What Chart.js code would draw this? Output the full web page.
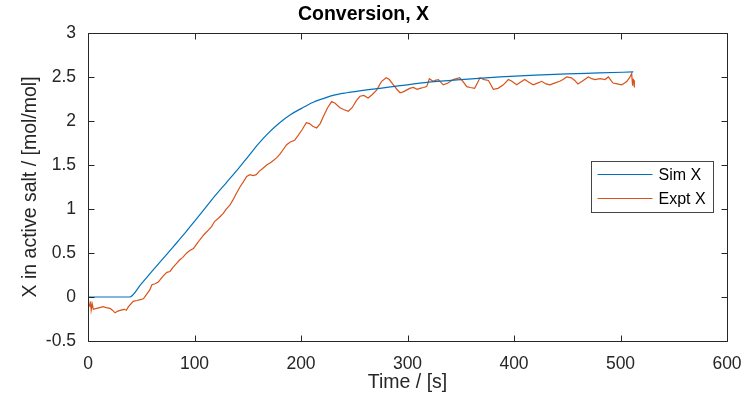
<!DOCTYPE html>
<html lang="en">
<head>
<meta charset="UTF-8">
<title>Conversion, X</title>
<script src="https://cdn.jsdelivr.net/npm/chart.js@4.4.1/dist/chart.umd.min.js"></script>
<style>
  body { margin: 0; background: #fff; }
  #wrap { width: 753px; height: 400px; }
</style>
</head>
<body>
<div id="wrap"><canvas id="conv" width="753" height="400"></canvas></div>
<script>
// axis ticks
const xTickVals = [0, 100, 200, 300, 400, 500, 600];
const yTickVals = [-0.5, 0, 0.5, 1, 1.5, 2, 2.5, 3];

// simulated conversion
const simT = [0, 20, 39, 50, 60, 70, 80, 90, 100, 110, 120, 130, 140, 150, 160, 170, 180, 190, 200, 211, 220, 230, 243, 260, 274, 293, 320, 350, 387, 420, 450, 480, 512];
const simX = [0, 0, 0, 0.15, 0.29, 0.43, 0.57, 0.71, 0.86, 1.01, 1.16, 1.30, 1.44, 1.59, 1.74, 1.87, 1.98, 2.07, 2.14, 2.21, 2.25, 2.29, 2.32, 2.35, 2.37, 2.40, 2.44, 2.47, 2.50, 2.52, 2.535, 2.545, 2.557];

// experimental conversion
const exptT = [0, 1, 2, 2.5, 3, 4, 5, 8, 11, 14, 17, 20.7, 23, 25.4, 28, 31, 34, 36, 38, 42.5, 46, 49, 52, 55, 58, 60, 63, 66, 68, 70.7,
  74, 77, 80, 83, 86, 89, 92.7, 96, 99, 102, 105, 109, 113, 116, 119, 123, 127, 130, 133, 136, 139, 142.7, 146, 149, 152, 155, 158, 161, 164, 167.8,
  172, 177, 180, 183, 186.5, 190, 194, 197, 201, 205, 208, 211, 214.7, 218, 221, 225, 228.8, 232, 236.6, 240, 244.4, 248, 252, 255.4, 259, 263, 267, 271, 275.7, 280,
  283, 286, 290, 293, 296, 299, 302, 305.5, 309, 311.7, 315, 318, 319.5, 320.5, 324, 326, 329, 333.6, 338, 343, 349, 352, 355.6, 359, 363, 366, 368, 372, 376, 380.6,
  385, 390, 394.7, 398, 402.5, 406, 410, 414, 418, 422, 426, 430, 433.8, 438, 443, 446, 449.5, 454, 457, 460, 464, 469.8, 473, 476, 481, 485.4, 488.6, 491, 493, 497,
  501, 504, 506, 509, 510.5, 511, 511.4, 512, 512.7, 513];
const exptX = [0, -0.08, -0.11, -0.05, -0.15, -0.08, -0.14, -0.13, -0.12, -0.11, -0.12, -0.13, -0.15, -0.18, -0.16, -0.15, -0.14, -0.15, -0.11, -0.05, -0.04, -0.03, -0.02, 0.03, 0.08, 0.14, 0.15, 0.17, 0.20, 0.24,
  0.28, 0.29, 0.34, 0.38, 0.42, 0.45, 0.50, 0.53, 0.55, 0.60, 0.65, 0.71, 0.76, 0.80, 0.86, 0.90, 0.95, 1.00, 1.04, 1.10, 1.17, 1.25, 1.31, 1.37, 1.39, 1.38, 1.39, 1.43, 1.46, 1.50,
  1.53, 1.58, 1.62, 1.67, 1.73, 1.76, 1.78, 1.83, 1.90, 1.98, 1.97, 1.94, 1.92, 1.97, 2.05, 2.15, 2.22, 2.20, 2.15, 2.13, 2.11, 2.15, 2.23, 2.28, 2.29, 2.26, 2.30, 2.35, 2.45, 2.49,
  2.47, 2.42, 2.36, 2.32, 2.33, 2.35, 2.37, 2.38, 2.36, 2.37, 2.38, 2.39, 2.44, 2.48, 2.45, 2.46, 2.47, 2.41, 2.43, 2.47, 2.49, 2.45, 2.39, 2.38, 2.37, 2.44, 2.49, 2.47, 2.46, 2.36,
  2.37, 2.41, 2.47, 2.45, 2.41, 2.44, 2.47, 2.44, 2.41, 2.43, 2.45, 2.42, 2.41, 2.43, 2.45, 2.47, 2.50, 2.49, 2.46, 2.42, 2.45, 2.50, 2.48, 2.47, 2.48, 2.47, 2.50, 2.46, 2.43, 2.42,
  2.41, 2.43, 2.45, 2.50, 2.54, 2.45, 2.40, 2.47, 2.46, 2.38];

const seriesNames = ['Sim X', 'Expt X'];
const seriesColors = ['#0072BD', '#D95319'];

const FONT = "'Liberation Sans', Arial, Helvetica, sans-serif";
const AXIS = '#262626';

// MATLAB style box with inward ticks on all four sides
const boxAxes = {
  id: 'boxAxes',
  afterDatasetsDraw(chart) {
    const { ctx, chartArea: a, scales } = chart;
    const L = Math.round(a.left) + 0.5, R = Math.round(a.right) + 0.5;
    const T = Math.round(a.top) + 0.5, B = Math.round(a.bottom) + 0.5;
    const len = 6;
    ctx.save();
    ctx.strokeStyle = AXIS;
    ctx.lineWidth = 1;
    ctx.beginPath();
    ctx.rect(L, T, R - L, B - T);
    xTickVals.forEach(v => {
      const x = Math.round(scales.x.getPixelForValue(v)) + 0.5;
      ctx.moveTo(x, B); ctx.lineTo(x, B - len);
      ctx.moveTo(x, T); ctx.lineTo(x, T + len);
    });
    yTickVals.forEach(v => {
      const y = Math.round(scales.y.getPixelForValue(v)) + 0.5;
      ctx.moveTo(L, y); ctx.lineTo(L + len, y);
      ctx.moveTo(R, y); ctx.lineTo(R - len, y);
    });
    ctx.stroke();
    ctx.restore();
  }
};

// legend box inside the axes, east side
const boxLegend = {
  id: 'boxLegend',
  afterDraw(chart) {
    const { ctx, chartArea: a } = chart;
    const w = 122, h = 51;
    const x0 = Math.round(a.right - 14 - w) + 0.5, y0 = 161.5;
    ctx.save();
    ctx.fillStyle = '#fff';
    ctx.fillRect(x0, y0, w, h);
    ctx.strokeStyle = '#444';
    ctx.lineWidth = 1;
    ctx.strokeRect(x0, y0, w, h);
    ctx.font = '16px ' + FONT;
    ctx.textBaseline = 'middle';
    seriesNames.forEach((name, i) => {
      const y = Math.round(y0 + 12.5 + i * 23.5) + 0.5;
      ctx.strokeStyle = seriesColors[i];
      ctx.lineWidth = 1.2;
      ctx.beginPath();
      ctx.moveTo(x0 + 6, y); ctx.lineTo(x0 + 61, y);
      ctx.stroke();
      ctx.fillStyle = '#000';
      ctx.fillText(name, x0 + 67, y + 1);
    });
    ctx.restore();
  }
};

new Chart(document.getElementById('conv'), {
  type: 'line',
  data: {
    datasets: [{
      label: seriesNames[0],
      data: simT.map((t, i) => ({ x: t, y: simX[i] })),
      borderColor: seriesColors[0],
      borderWidth: 1.2,
      pointRadius: 0,
      cubicInterpolationMode: 'monotone',
      fill: false
    }, {
      label: seriesNames[1],
      data: exptT.map((t, i) => ({ x: t, y: exptX[i] })),
      borderColor: seriesColors[1],
      borderWidth: 1.2,
      pointRadius: 0,
      tension: 0,
      fill: false
    }]
  },
  options: {
    responsive: false,
    animation: false,
    layout: { padding: { left: 0, right: 26, top: 0, bottom: 0 } },
    plugins: {
      legend: { display: false },
      tooltip: { enabled: false },
      title: {
        display: true,
        text: 'Conversion, X',
        color: '#000',
        font: { family: FONT, size: 19.5, weight: 'bold' },
        padding: { top: 2.5, bottom: 7 }
      }
    },
    scales: {
      x: {
        type: 'linear',
        min: 0, max: 600,
        afterBuildTicks: s => { s.ticks = xTickVals.map(v => ({ value: v })); },
        afterFit: s => { s.height = 59; },
        grid: { display: false },
        border: { display: false },
        ticks: {
          color: '#262626',
          font: { family: FONT, size: 17.5 },
          padding: 5,
          maxRotation: 0,
          callback: v => String(v)
        },
        title: {
          display: true,
          text: 'Time / [s]',
          color: '#262626',
          font: { family: FONT, size: 19.5 },
          padding: { top: 0, bottom: 6 }
        }
      },
      y: {
        min: -0.5, max: 3,
        afterBuildTicks: s => { s.ticks = yTickVals.map(v => ({ value: v })); },
        afterFit: s => { s.width = 88; },
        grid: { display: false },
        border: { display: false },
        ticks: {
          color: '#262626',
          font: { family: FONT, size: 17.5 },
          padding: 4,
          callback: v => String(v)
        },
        title: {
          display: true,
          text: 'X in active salt / [mol/mol]',
          color: '#262626',
          font: { family: FONT, size: 19.5 },
          padding: { top: 19, bottom: 0 }
        }
      }
    }
  },
  plugins: [boxAxes, boxLegend]
});
</script>
</body>
</html>
